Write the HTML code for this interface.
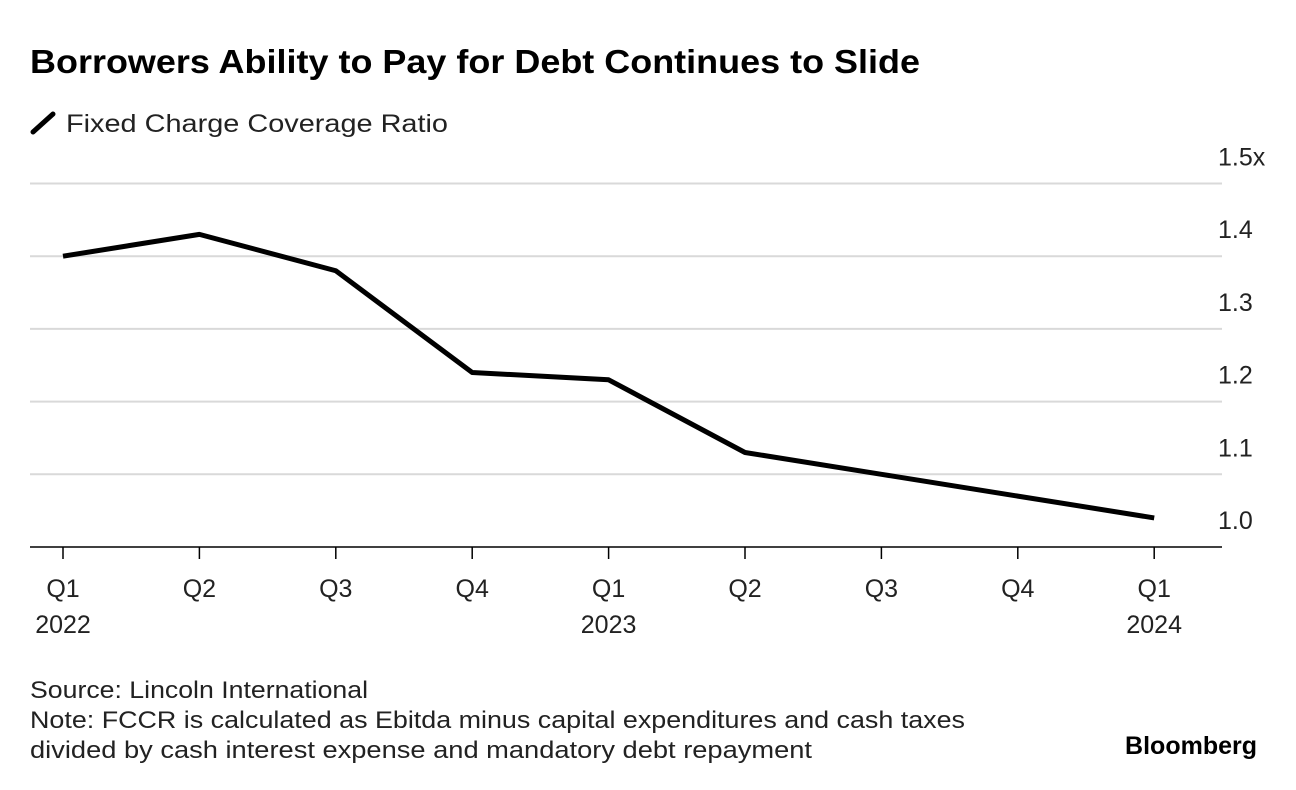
<!DOCTYPE html>
<html><head><meta charset="utf-8"><style>
body{margin:0;background:#fff;font-family:"Liberation Sans",sans-serif;color:#000}
#wrap{position:relative;width:1296px;height:790px;overflow:hidden}
</style></head><body>
<div id="wrap">
<svg id="svg" width="1296" height="790">
<text x="30" y="73" font-size="33" font-weight="bold" textLength="890" lengthAdjust="spacingAndGlyphs">Borrowers Ability to Pay for Debt Continues to Slide</text>
<line x1="33" y1="132" x2="53" y2="114" stroke="#000" stroke-width="5" stroke-linecap="round"/>
<text x="66" y="132" font-size="25" fill="#222" textLength="382" lengthAdjust="spacingAndGlyphs">Fixed Charge Coverage Ratio</text>
<g id="grid"></g><g id="xt"></g>
<path id="line" fill="none" stroke="#000" stroke-width="5" stroke-linejoin="round"/>
<text x="30" y="698" font-size="24" fill="#222" textLength="338" lengthAdjust="spacingAndGlyphs">Source: Lincoln International</text>
<text x="30" y="728" font-size="24" fill="#222" textLength="935" lengthAdjust="spacingAndGlyphs">Note: FCCR is calculated as Ebitda minus capital expenditures and cash taxes</text>
<text x="30" y="758" font-size="24" fill="#222" textLength="782" lengthAdjust="spacingAndGlyphs">divided by cash interest expense and mandatory debt repayment</text>
<text x="1257" y="754" font-size="25" font-weight="bold" text-anchor="end">Bloomberg</text>
</svg></div>
<script>
const quarters=["Q1","Q2","Q3","Q4","Q1","Q2","Q3","Q4","Q1"];
const years=["2022","","","","2023","","","","2024"];
const values=[1.40,1.43,1.38,1.24,1.23,1.13,1.10,1.07,1.04];
const yTicks=[1.0,1.1,1.2,1.3,1.4,1.5];
const yLabels=["1.0","1.1","1.2","1.3","1.4","1.5x"];
const NS="http://www.w3.org/2000/svg";
const X=i=>63+i*136.4;
const Y=v=>547-(v-1.0)*727;
const grid=document.getElementById('grid'),xt=document.getElementById('xt');
function mk(tag,attrs,parent,txt){const e=document.createElementNS(NS,tag);for(const k in attrs)e.setAttribute(k,attrs[k]);if(txt!==undefined)e.textContent=txt;parent.appendChild(e);return e;}
yTicks.forEach((t,i)=>{
 const l=mk('line',{x1:30,x2:1222,y1:Y(t),y2:Y(t),stroke:i==0?'#000':'#d9d9d9','stroke-width':i==0?1.5:2},grid);
 
 
 const tx=mk('text',{x:1218,y:Y(t)-18,'font-size':25,fill:'#222'},grid,yLabels[i]);
 
 
});
quarters.forEach((q,i)=>{
 const l=mk('line',{x1:X(i),x2:X(i),y1:547,y2:559,stroke:'#000','stroke-width':1.5},xt);
 
 
 const t=mk('text',{x:X(i),y:597,'font-size':25,fill:'#222','text-anchor':'middle'},xt,q);
 
 
 if(years[i]){const y=mk('text',{x:X(i),y:633,'font-size':25,fill:'#222','text-anchor':'middle'},xt,years[i]);
 
 }
});
document.getElementById('line').setAttribute('d',values.map((v,i)=>(i?'L':'M')+X(i)+' '+Y(v)).join(' '));
</script>
</body></html>
